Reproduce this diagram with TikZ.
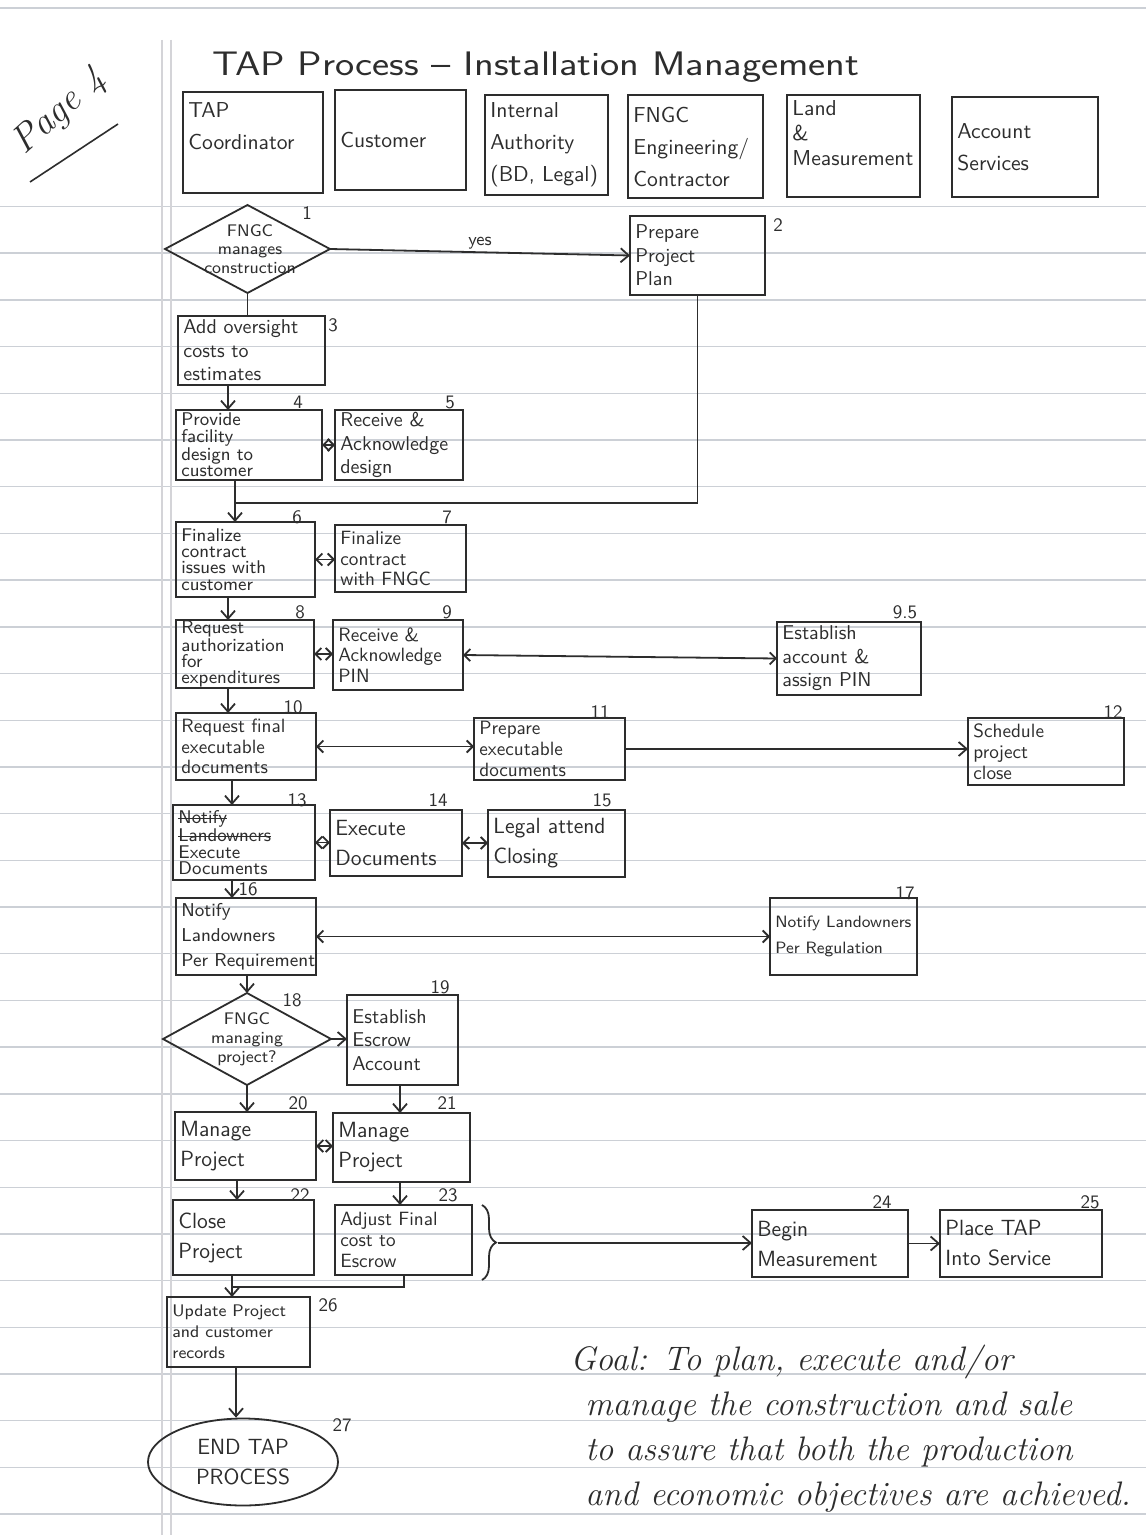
\documentclass[tikz,border=0pt]{standalone}
\usepackage{fontspec}
\usetikzlibrary{shapes.geometric,arrows.meta,decorations.pathreplacing}

\definecolor{ink}{RGB}{45,45,45}
\definecolor{ruling}{RGB}{204,208,214}
\definecolor{marginline}{RGB}{212,212,216}

% a word with a line struck through it
\newcommand\struck[1]{\leavevmode\setbox0\hbox{#1}\rlap{\rule[0.55ex]{\wd0}{0.6pt}}\box0}

\tikzset{
  inkline/.style={draw=ink, line width=0.9pt},
  frame/.style={inkline, rectangle, inner sep=0pt, outer sep=0pt},
  box/.style={text=ink, inner sep=0pt, align=left, font=\sffamily\fontsize{10}{11.8}\selectfont},
  box2/.style={box, font=\sffamily\fontsize{11}{15}\selectfont},
  box3t/.style={box, font=\sffamily\fontsize{9.6}{10.4}\selectfont},
  box4/.style={box, font=\sffamily\fontsize{9.2}{8.1}\selectfont},
  boxs/.style={box, font=\sffamily\fontsize{8.4}{10.5}\selectfont},
  head/.style={box, font=\sffamily\fontsize{10.8}{16}\selectfont},
  num/.style={text=ink, inner sep=0pt, font=\sffamily\fontsize{9.5}{10}\selectfont},
  dtext/.style={text=ink, inner sep=0pt, align=center, font=\sffamily\fontsize{8.4}{9.4}\selectfont},
  dia/.style={inkline, diamond, inner sep=0pt, outer sep=0pt},
  arr/.style={inkline, -{Straight Barb[length=4pt,width=7pt]}},
  darr/.style={inkline, {Straight Barb[length=3pt,width=6pt]}-{Straight Barb[length=3pt,width=6pt]}},
  link/.style={inkline},
  goal/.style={text=ink, inner sep=0pt, anchor=base west, font=\itshape\fontsize{17}{20}\selectfont},
}

% \flowbox[text style]{name}{x1}{y1}{x2}{y2}{text}:
% a framed box spanning the given corners, its text set flush left inside
\newcommand\flowbox[7][box]{%
  \pgfmathsetmacro\bxw{(#5-#3)*0.5}%
  \pgfmathsetmacro\bxh{(#6-#4)*0.5}%
  \node[frame, minimum width=\bxw pt, minimum height=\bxh pt]
    (#2) at ({(#3+#5)/2},{(#4+#6)/2}) {};
  \node[#1, anchor=west] (#2t) at ([xshift=2.5pt]#2.west) {#7};}

\begin{document}
\begin{tikzpicture}[x=0.5pt, y=-0.5pt]
\fill[white] (0,0) rectangle (1146,1535);
\useasboundingbox (0,0) rectangle (1146,1535);

% ruled notebook paper
\draw[ruling, line width=0.6pt] (0,8) -- (1146,8);
\foreach \k in {0,...,28}
  \draw[ruling, line width=0.7pt] (0,{206.5+46.7*\k}) -- (1146,{206.5+46.7*\k});
\draw[marginline, line width=0.6pt] (162,40) -- (162,1535);
\draw[marginline, line width=0.6pt] (171,40) -- (171,1535);

% page mark and title
\node[text=ink, rotate=42, font=\itshape\fontsize{19}{20}\selectfont] (page) at (60,112) {Page 4};
\draw[ink, line width=0.8pt] (30,182) -- (118,124);
\node[text=ink, font=\sffamily\fontsize{17}{20}\selectfont, anchor=base west] (title) at (205,76)
  {\scalebox{1.2}[1]{TAP Process -- Installation Management}};

% swim-lane headers
\flowbox[head]{h1}{183}{92}{323}{193}{TAP\\Coordinator\\~}
\flowbox[head]{h2}{335}{90}{466}{190}{Customer}
\flowbox[head]{h3}{485}{95}{608}{195}{Internal\\Authority\\(BD, Legal)}
\flowbox[head]{h4}{628}{95}{763}{198}{FNGC\\Engineering/\\Contractor}
\flowbox[head, font=\sffamily\fontsize{10.8}{12.5}\selectfont]{h5}{787}{95}{920}{197}{Land\\\&\\Measurement\\~}
\flowbox[head]{h6}{952}{97}{1098}{197}{Account\\Services}

% process steps
\node[dia, minimum width=82.5pt, minimum height=44pt] (d1) at (247.5,249) {};
\node[dtext] (d1t) at (250,249) {FNGC\\manages\\construction};
\flowbox{b2}{630}{216}{765}{295}{Prepare\\Project\\Plan}
\flowbox{b3}{178}{316}{325}{385}{Add oversight\\costs to\\estimates}
\flowbox[box4]{b4}{176}{410}{322}{480}{Provide\\facility\\design to\\customer}
\flowbox{b5}{335}{410}{463}{480}{Receive \&\\Acknowledge\\design}
\flowbox[box4]{b6}{176}{522}{315}{597}{Finalize\\contract\\issues with\\customer}
\flowbox[box3t]{b7}{335}{525}{466}{592}{Finalize\\contract\\with FNGC}
\flowbox[box4]{b8}{176}{620}{314}{688}{Request\\authorization\\for\\expenditures}
\flowbox[box3t]{b9}{333}{620}{463}{690}{Receive \&\\Acknowledge\\PIN}
\flowbox{b95}{777}{622}{921}{695}{Establish\\account \&\\assign PIN}
\flowbox[box3t]{b10}{176}{713}{316}{780}{Request final\\executable\\documents}
\flowbox[box3t]{b11}{474}{718}{625}{780}{Prepare\\executable\\documents}
\flowbox[box3t]{b12}{968}{718}{1124}{785}{Schedule\\project\\close}
\flowbox[box4]{b13}{173}{805}{315}{880}{\struck{Notify}\\\struck{Landowners}\\Execute\\Documents}
\flowbox[box2]{b14}{330}{810}{462}{876}{Execute\\Documents}
\flowbox[box2]{b15}{488}{810}{625}{877}{Legal attend\\Closing}
\flowbox[box, font=\sffamily\fontsize{9.3}{12.5}\selectfont]{b16}{176}{898}{316}{975}{Notify\\Landowners\\Per Requirement}
\flowbox[box, font=\sffamily\fontsize{8.2}{13}\selectfont]{b17}{770}{898}{917}{975}{Notify Landowners\\Per Regulation}
\node[dia, minimum width=84pt, minimum height=46pt] (d18) at (247,1039) {};
\node[dtext] (d18t) at (247,1039) {FNGC\\managing\\project?};
\flowbox{b19}{347}{995}{458}{1085}{Establish\\Escrow\\Account}
\flowbox[box2]{b20}{175}{1112}{316}{1180}{Manage\\Project}
\flowbox[box2]{b21}{333}{1113}{470}{1182}{Manage\\Project}
\flowbox[box2]{b22}{173}{1200}{314}{1275}{Close\\Project}
\flowbox[box3t]{b23}{335}{1205}{472}{1275}{Adjust Final\\cost to\\Escrow}
\flowbox[box2]{b24}{752}{1210}{908}{1277}{Begin\\Measurement}
\flowbox[box2]{b25}{940}{1210}{1102}{1277}{Place TAP\\Into Service}
\flowbox[boxs]{b26}{167}{1297}{310}{1367}{Update Project\\and customer\\records}
\node[inkline, ellipse, minimum width=95pt, minimum height=43.5pt, inner sep=0pt, align=center,
  text=ink, font=\sffamily\fontsize{11}{15}\selectfont] (e27) at (243,1462) {END TAP\\PROCESS};

% step numbers
\node[num] (n1) at (307,213) {1};
\node[num] (n2) at (778,225) {2};
\node[num] (n3) at (333,325) {3};
\node[num] (n4) at (298,402) {4};
\node[num] (n5) at (450,402) {5};
\node[num] (n6) at (297,517) {6};
\node[num] (n7) at (447,517) {7};
\node[num] (n8) at (300,612) {8};
\node[num] (n9) at (447,612) {9};
\node[num] (n95) at (905,612) {9.5};
\node[num] (n10) at (293,707) {10};
\node[num] (n11) at (600,712) {11};
\node[num] (n12) at (1113,712) {12};
\node[num] (n13) at (297,800) {13};
\node[num] (n14) at (438,800) {14};
\node[num] (n15) at (602,800) {15};
\node[num] (n16) at (248,889) {16};
\node[num] (n17) at (905,893) {17};
\node[num] (n18) at (292,1000) {18};
\node[num] (n19) at (440,987) {19};
\node[num] (n20) at (298,1103) {20};
\node[num] (n21) at (447,1103) {21};
\node[num] (n22) at (300,1195) {22};
\node[num] (n23) at (448,1195) {23};
\node[num] (n24) at (882,1202) {24};
\node[num] (n25) at (1090,1202) {25};
\node[num] (n26) at (328,1305) {26};
\node[num] (n27) at (342,1425) {27};

% connector columns
\coordinate (cA) at (228,0);
\coordinate (cC) at (232,0);
\coordinate (cE) at (400,0);
\coordinate (cF) at (237,0);
\coordinate (cG) at (404,0);
\coordinate (cH) at (236,0);
\coordinate (j1) at (235,503);
\coordinate (j2) at (232,1287);
\coordinate (brtip) at (498,1243);

% connectors
\draw[link] (d1.south) -- (d1.south |- b3.north);
\draw[arr] (d1.east) -- (b2.west)
  node[midway, above=1pt, text=ink, inner sep=0pt, font=\sffamily\fontsize{9}{10}\selectfont] (yes) {yes};
\draw[arr] (b3.south -| cA) -- (b4.north -| cA);
\draw[darr] (b4.east) -- (b4.east -| b5.west);
\draw[link] (b2.south) |- (j1);
\draw[arr] (b4.south -| j1) -- (b6.north -| j1);
\draw[darr] (b6.east) -- (b6.east -| b7.west);
\draw[arr] (b6.south -| cA) -- (b8.north -| cA);
\draw[darr] (b8.east) -- (b8.east -| b9.west);
\draw[darr] (b9.east) -- (b95.west);
\draw[arr] (b8.south -| cA) -- (b10.north -| cA);
\draw[darr] (b10.east) -- (b10.east -| b11.west);
\draw[arr] (b11.east) -- (b11.east -| b12.west);
\draw[arr] (b10.south -| cC) -- (b13.north -| cC);
\draw[darr] (b13.east) -- (b13.east -| b14.west);
\draw[darr] (b14.east) -- (b14.east -| b15.west);
\draw[arr] (b13.south -| cC) -- (b16.north -| cC);
\draw[darr] (b16.east) -- (b16.east -| b17.west);
\draw[arr] (b16.south -| d18.north) -- (d18.north);
\draw[arr] (d18.east) -- (d18.east -| b19.west);
\draw[arr] (d18.south) -- (d18.south |- b20.north);
\draw[arr] (b19.south -| cE) -- (b21.north -| cE);
\draw[darr] (b20.east) -- (b20.east -| b21.west);
\draw[arr] (b20.south -| cF) -- (b22.north -| cF);
\draw[arr] (b21.south -| cE) -- (b23.north -| cE);
\draw[inkline, decorate, decoration={brace, amplitude=7pt}] (482,1205) -- (482,1280);
\draw[arr] (brtip) -- (brtip -| b24.west);
\draw[arr] (b24.east) -- (b24.east -| b25.west);
\draw[link] (b23.south -| cG) |- (j2);
\draw[link] (b22.south -| j2) -- (j2);
\draw[arr] (j2) -- (b26.north -| j2);
\draw[arr] (b26.south -| cH) -- (e27.north -| cH);

% goal statement
\node[goal] (g1) at (570,1370) {Goal: To plan, execute and/or};
\node[goal] (g2) at (585,1415) {manage the construction and sale};
\node[goal] (g3) at (585,1460) {to assure that both the production};
\node[goal] (g4) at (585,1505) {and economic objectives are achieved.};
\end{tikzpicture}
\end{document}
